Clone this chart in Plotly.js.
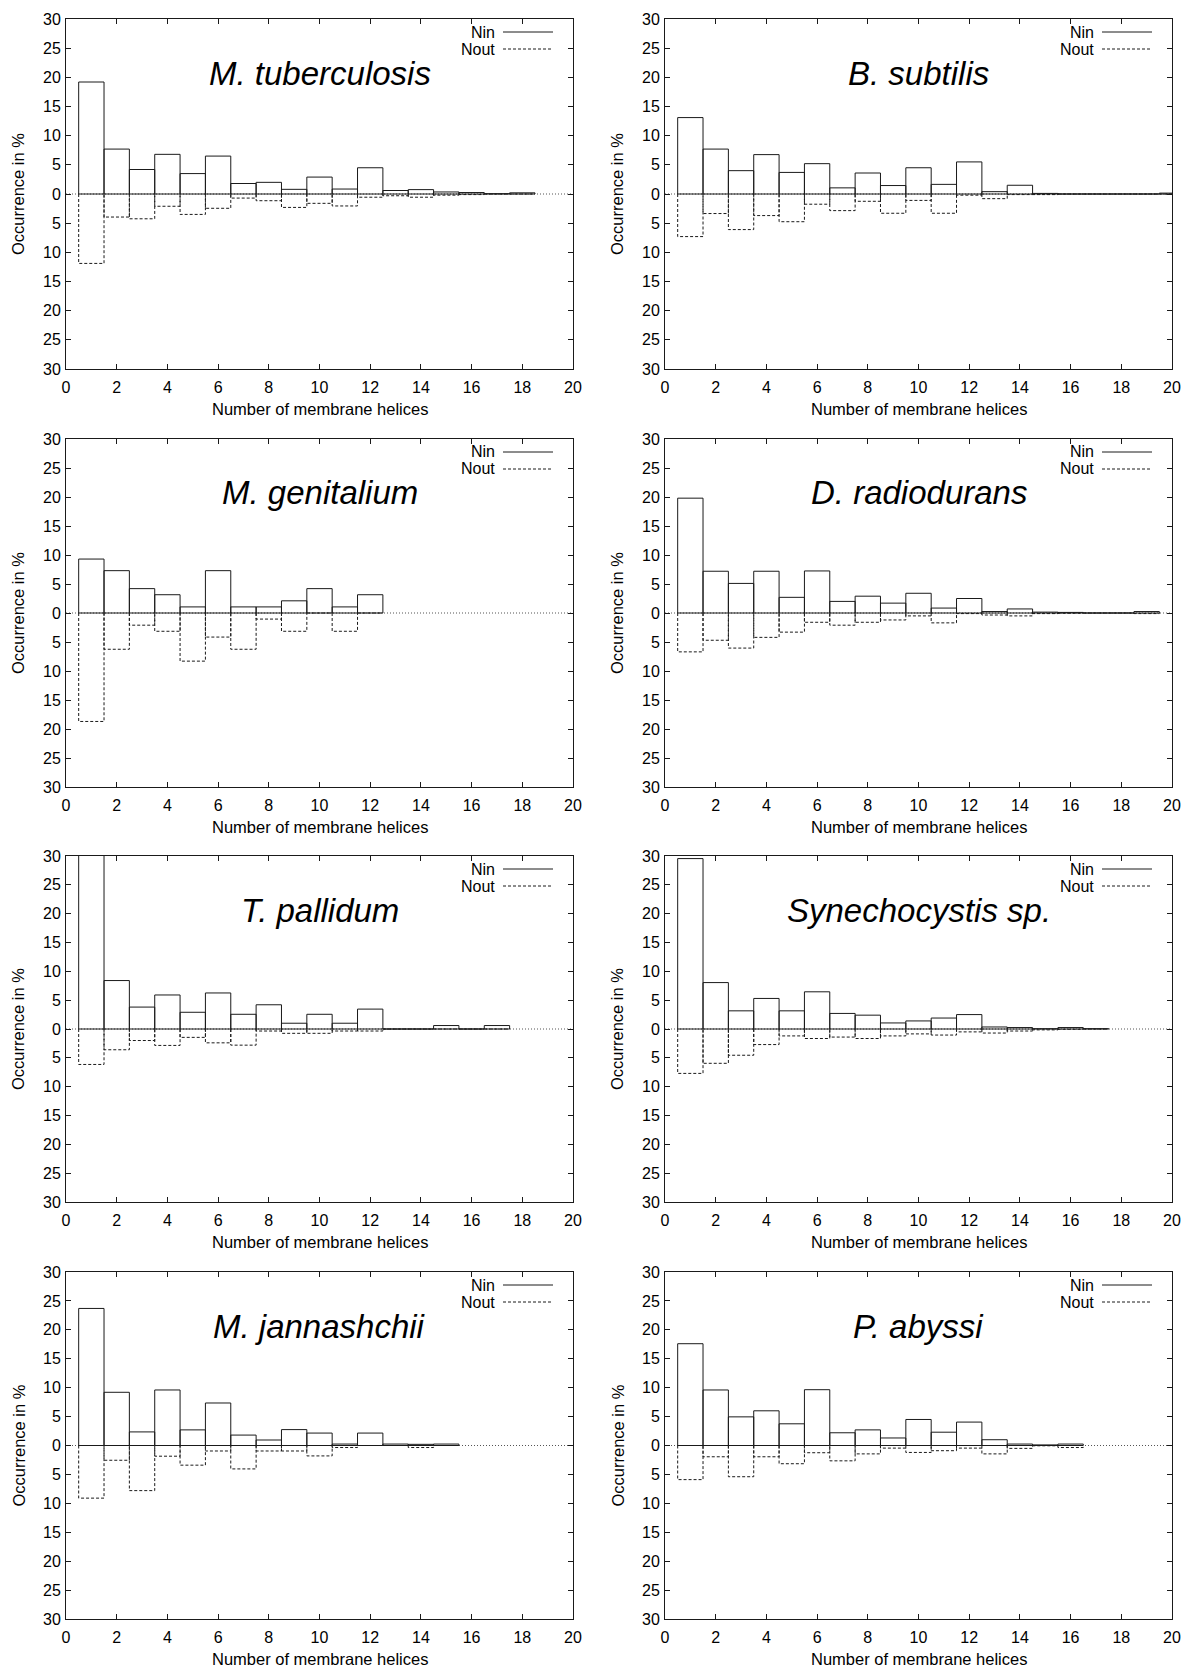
<!DOCTYPE html>
<html>
<head>
<meta charset="utf-8">
<script src="https://cdn.plot.ly/plotly-3.0.1.min.js"></script>
<style>
  html, body { margin: 0; padding: 0; background: #ffffff; }
  #chart { width: 1184px; height: 1668px; }
</style>
</head>
<body>
<div id="chart"></div>
<script>
// ---------------- DATA ----------------
const helices = [1, 2, 3, 4, 5, 6, 7, 8, 9, 10, 11, 12, 13, 14, 15, 16, 17, 18, 19, 20];
const xTicks = [0, 2, 4, 6, 8, 10, 12, 14, 16, 18, 20];
const yTicks = [-30, -25, -20, -15, -10, -5, 0, 5, 10, 15, 20, 25, 30];
const yTickText = ["30", "25", "20", "15", "10", "5", "0", "5", "10", "15", "20", "25", "30"];
const seriesNames = ["Nin", "Nout"];
const xTitle = "Number of membrane helices";
const yTitle = "Occurrence in %";

const organisms = ["M. tuberculosis", "B. subtilis", "M. genitalium", "D. radiodurans",
                   "T. pallidum", "Synechocystis sp.", "M. jannashchii", "P. abyssi"];

const nin_mtub  = [19.2, 7.7, 4.2, 6.8, 3.5, 6.5, 1.8, 2.0, 0.8, 2.9, 0.85, 4.5, 0.6, 0.75, 0.35, 0.25, 0.05, 0.2];
const nout_mtub = [11.9, 3.95, 4.25, 2.1, 3.5, 2.45, 0.7, 1.15, 2.3, 1.6, 2.05, 0.55, 0.3, 0.55, 0.2, 0.1, 0, 0];

const nin_bsub  = [13.1, 7.7, 4.0, 6.75, 3.7, 5.2, 1.05, 3.6, 1.45, 4.5, 1.65, 5.5, 0.4, 1.5, 0.1, 0, 0, 0, 0, 0.15];
const nout_bsub = [7.3, 3.35, 6.1, 3.7, 4.75, 1.75, 2.85, 1.25, 3.3, 1.1, 3.3, 0.2, 0.8, 0.1, 0.1, 0, 0, 0, 0, 0];

const nin_mgen  = [9.3, 7.3, 4.2, 3.15, 1.05, 7.3, 1.05, 1.05, 2.1, 4.2, 1.05, 3.15];
const nout_mgen = [18.7, 6.25, 2.1, 3.15, 8.3, 4.15, 6.25, 1.05, 3.15, 0, 3.15, 0];

const nin_drad  = [19.8, 7.2, 5.1, 7.2, 2.7, 7.25, 2.0, 2.9, 1.7, 3.4, 0.85, 2.5, 0.25, 0.7, 0.15, 0.1, 0, 0, 0.25];
const nout_drad = [6.7, 4.7, 6.05, 4.2, 3.3, 1.6, 2.1, 1.6, 1.2, 0.5, 1.7, 0.1, 0.35, 0.5, 0.1, 0.05, 0, 0, 0.1];

const nin_tpal  = [32, 8.4, 3.8, 5.9, 2.9, 6.25, 2.55, 4.2, 1.0, 2.55, 1.0, 3.45, 0, 0, 0.6, 0, 0.6];
const nout_tpal = [6.15, 3.6, 2.0, 2.85, 1.45, 2.4, 2.8, 0.35, 0.75, 0.75, 0.35, 0.35, 0, 0, 0, 0, 0];

const nin_syn   = [29.55, 8.05, 3.15, 5.3, 3.15, 6.45, 2.7, 2.4, 1.05, 1.4, 1.9, 2.5, 0.35, 0.25, 0.05, 0.25, 0.05];
const nout_syn  = [7.7, 5.95, 4.55, 2.7, 1.2, 1.65, 1.4, 1.65, 1.2, 0.85, 1.05, 0.5, 0.7, 0.35, 0.15, 0.05, 0];

const nin_mjan  = [23.7, 9.2, 2.35, 9.6, 2.7, 7.35, 1.8, 0.95, 2.75, 2.15, 0.25, 2.15, 0.25, 0.2, 0.25];
const nout_mjan = [9.1, 2.55, 7.8, 1.85, 3.4, 0.95, 4.05, 0.95, 0.95, 1.8, 0.35, 0, 0, 0.35, 0];

const nin_paby  = [17.6, 9.6, 4.95, 6.0, 3.75, 9.65, 2.2, 2.7, 1.3, 4.5, 2.3, 4.05, 1.0, 0.25, 0.1, 0.25];
const nout_paby = [5.9, 1.95, 5.4, 1.95, 3.15, 1.25, 2.65, 1.45, 0.45, 1.2, 0.9, 0.45, 1.45, 0.5, 0.05, 0.35];

const ninSeries  = [nin_mtub, nin_bsub, nin_mgen, nin_drad, nin_tpal, nin_syn, nin_mjan, nin_paby];
const noutSeries = [nout_mtub, nout_bsub, nout_mgen, nout_drad, nout_tpal, nout_syn, nout_mjan, nout_paby];

// ---------------- LAYOUT CONSTANTS ----------------
const W = 1184, H = 1668;
const colLeft  = [66, 665];
const colRight = [573, 1172];
const rowTop    = [19, 439, 856, 1272];
const rowBottom = [369, 787, 1202, 1619];
const FONT = "Liberation Sans, Arial, Helvetica, sans-serif";
const INK = "#1a1a1a";

// Build step-box outlines from the values (bin width 1 centred on helix count)
function boxes(values, sign, closeTop) {
  const xs = [], ys = [];
  values.forEach((v, i) => {
    if (v === null || v === undefined) return;
    const c = helices[i], l = c - 0.5, r = c + 0.5, y = sign * v;
    if (closeTop) { xs.push(l, l, r, r, l, null); ys.push(0, y, y, 0, 0, null); }
    else { xs.push(l, l, r, r, null); ys.push(0, y, y, 0, null); }
  });
  return { xs, ys };
}

const data = [];
const layout = {
  width: W, height: H,
  margin: { l: 0, r: 0, t: 0, b: 0 },
  paper_bgcolor: "#ffffff",
  plot_bgcolor: "#ffffff",
  showlegend: false,
  font: { family: FONT, size: 16, color: "#000000" },
  annotations: [],
  shapes: []
};

organisms.forEach((name, k) => {
  const col = k % 2, row = Math.floor(k / 2);
  const n = k + 1;
  const xa = n === 1 ? "x" : "x" + n;
  const ya = n === 1 ? "y" : "y" + n;
  const xKey = n === 1 ? "xaxis" : "xaxis" + n;
  const yKey = n === 1 ? "yaxis" : "yaxis" + n;
  const pw = colRight[col] - colLeft[col];
  const ph = rowBottom[row] - rowTop[row];

  layout[xKey] = {
    domain: [colLeft[col] / W, colRight[col] / W],
    anchor: ya,
    range: [0, 20],
    tickmode: "array", tickvals: xTicks,
    ticks: "inside", ticklen: 5, tickwidth: 1, tickcolor: INK,
    ticklabelstandoff: 4,
    showline: true, linecolor: INK, linewidth: 1, mirror: "ticks",
    showgrid: false, zeroline: false,
    tickfont: { family: FONT, size: 16, color: "#000000" },
    fixedrange: true
  };
  layout[yKey] = {
    domain: [1 - rowBottom[row] / H, 1 - rowTop[row] / H],
    anchor: xa,
    range: [-30, 30],
    tickmode: "array", tickvals: yTicks, ticktext: yTickText,
    ticks: "inside", ticklen: 5, tickwidth: 1, tickcolor: INK,
    ticklabelstandoff: 1,
    showline: true, linecolor: INK, linewidth: 1, mirror: "ticks",
    showgrid: false, zeroline: false,
    tickfont: { family: FONT, size: 16, color: "#000000" },
    fixedrange: true
  };

  // dotted zero axis
  layout.shapes.push({
    type: "line", xref: xa, yref: ya, x0: 0, x1: 20, y0: 0, y1: 0,
    line: { color: "#555555", width: 1, dash: "1px,2px" }, layer: "below"
  });

  const nin = boxes(ninSeries[k], 1, true);
  const nout = boxes(noutSeries[k], -1, false);
  data.push({
    type: "scatter", mode: "lines", name: seriesNames[0],
    x: nin.xs, y: nin.ys, xaxis: xa, yaxis: ya,
    line: { color: INK, width: 1 }, connectgaps: false, hoverinfo: "skip"
  });
  data.push({
    type: "scatter", mode: "lines", name: seriesNames[1],
    x: nout.xs, y: nout.ys, xaxis: xa, yaxis: ya,
    line: { color: INK, width: 1, dash: "3px,2px" }, connectgaps: false, hoverinfo: "skip"
  });

  // organism title
  layout.annotations.push({
    xref: xa + " domain", yref: ya + " domain", x: 0.5, y: 1 - 54 / ph,
    xanchor: "center", yanchor: "middle", showarrow: false,
    text: "<i>" + name + "</i>",
    font: { family: FONT, size: 33, color: "#000000" }
  });
  // axis titles
  layout.annotations.push({
    xref: xa + " domain", yref: ya + " domain", x: 0.5, y: -40 / ph,
    xanchor: "center", yanchor: "middle", showarrow: false,
    text: xTitle, font: { family: FONT, size: 16.5, color: "#000000" }
  });
  layout.annotations.push({
    xref: xa + " domain", yref: ya + " domain", x: -48 / pw, y: 0.5,
    xanchor: "center", yanchor: "middle", showarrow: false, textangle: -90,
    text: yTitle, font: { family: FONT, size: 16.5, color: "#000000" }
  });
  // legend (text right-aligned, line sample to the right)
  const legY = [13, 30];
  const legDash = ["solid", "3px,2px"];
  seriesNames.forEach((s, j) => {
    layout.annotations.push({
      xref: xa + " domain", yref: ya + " domain", x: 1 - 76 / pw, y: 1 - legY[j] / ph,
      xanchor: "right", yanchor: "middle", showarrow: false,
      text: s, font: { family: FONT, size: 16, color: "#000000" }
    });
    layout.shapes.push({
      type: "line", xref: xa + " domain", yref: ya + " domain",
      x0: 1 - 70 / pw, x1: 1 - 20 / pw, y0: 1 - legY[j] / ph, y1: 1 - legY[j] / ph,
      line: { color: INK, width: 1, dash: legDash[j] }
    });
  });
});

Plotly.newPlot("chart", data, layout, { staticPlot: true, displayModeBar: false });
</script>
</body>
</html>
